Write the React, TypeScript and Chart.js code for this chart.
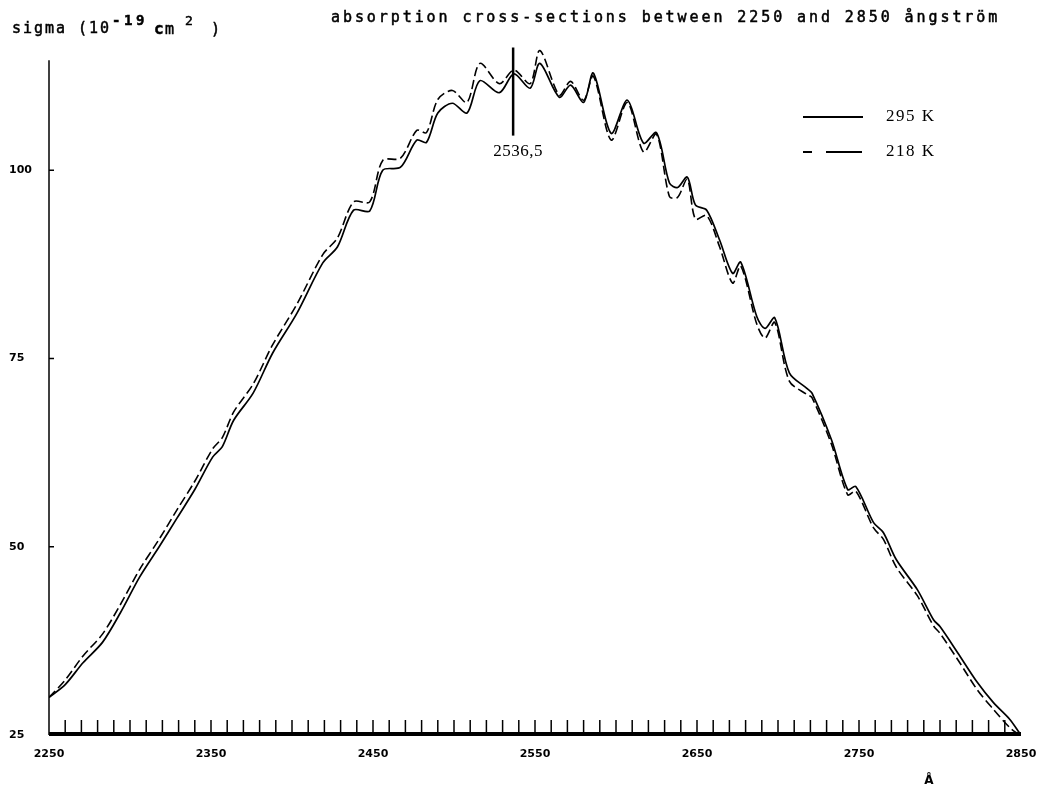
import React, { useEffect, useRef } from "react";
import { Chart, registerables } from "chart.js";
Chart.register(...registerables);

const wavelengths = [2250, 2260, 2271, 2283, 2294, 2306, 2318, 2329, 2340, 2351, 2357, 2364, 2376, 2388, 2403, 2419, 2428, 2438, 2448, 2456, 2467, 2477, 2483, 2490, 2499, 2508, 2516, 2528, 2537, 2547, 2553, 2565, 2572, 2580, 2586, 2597, 2607, 2617, 2625, 2633, 2638, 2644, 2649, 2656, 2664, 2672, 2677, 2687, 2692, 2698, 2707, 2718, 2721, 2733, 2743, 2748, 2759, 2765, 2773, 2786, 2796, 2800, 2811, 2823, 2833, 2843, 2849];

const sigma295 = [30.0, 31.7, 34.6, 37.3, 41.2, 46.0, 50.0, 53.8, 57.6, 61.9, 63.3, 66.8, 70.4, 75.7, 81.0, 87.7, 89.8, 94.7, 94.6, 100.0, 100.4, 104.0, 103.7, 107.6, 108.9, 107.6, 111.9, 110.3, 112.8, 110.9, 114.2, 109.7, 111.3, 109.0, 112.9, 104.9, 109.3, 103.6, 105.0, 98.3, 97.7, 99.1, 95.4, 94.7, 90.7, 86.3, 87.8, 80.5, 79.0, 80.4, 73.1, 71.0, 70.4, 64.2, 57.6, 58.0, 53.2, 51.9, 48.3, 44.3, 40.3, 39.4, 35.9, 32.0, 29.3, 27.1, 25.3];

const sigma218 = [30.0, 32.3, 35.5, 38.4, 42.3, 47.0, 51.0, 54.9, 58.7, 63.0, 64.5, 67.9, 71.6, 76.8, 82.2, 88.8, 91.0, 95.8, 95.8, 101.3, 101.6, 105.3, 105.0, 109.4, 110.6, 109.0, 114.2, 111.5, 113.3, 111.5, 115.9, 110.0, 111.8, 109.3, 112.5, 104.0, 109.0, 102.4, 104.8, 96.5, 96.4, 98.8, 93.5, 94.0, 89.8, 85.0, 87.3, 79.5, 77.7, 79.8, 72.0, 70.2, 69.8, 63.6, 56.9, 57.4, 52.5, 51.0, 47.3, 43.5, 39.5, 38.5, 35.0, 31.0, 28.4, 26.0, 25.0];

const xTickLabels = [2250, 2350, 2450, 2550, 2650, 2750, 2850];
const yTickLabels = [25, 50, 75, 100];
const minorTicks = [2260, 2270, 2280, 2290, 2300, 2310, 2320, 2330, 2340, 2350, 2360, 2370, 2380, 2390, 2400, 2410, 2420, 2430, 2440, 2450, 2460, 2470, 2480, 2490, 2500, 2510, 2520, 2530, 2540, 2550, 2560, 2570, 2580, 2590, 2600, 2610, 2620, 2630, 2640, 2650, 2660, 2670, 2680, 2690, 2700, 2710, 2720, 2730, 2740, 2750, 2760, 2770, 2780, 2790, 2800, 2810, 2820, 2830, 2840];
const seriesLabels = ["295 K", "218 K"];
const markerWavelength = 2536.5;
const markerLabel = "2536,5";
const chartTitle = "absorption cross-sections between 2250 and 2850 ångström";

function spaced(ctx: CanvasRenderingContext2D, text: string, x: number, y: number, adv: number) {
  for (let i = 0; i < text.length; i++) {
    ctx.fillText(text[i], x + i * adv, y);
    ctx.strokeText(text[i], x + i * adv, y);
  }
}

function bolder(ctx: CanvasRenderingContext2D, t: string, x: number, y: number) {
  ctx.fillText(t, x, y);
  ctx.strokeText(t, x, y);
}

const decor = {
  id: "decor",
  afterDatasetsDraw(chart: any) {
    const { ctx, scales } = chart;
    const xs = scales.x;
    const ys = scales.y;
    const left = xs.getPixelForValue(2250);
    const right = xs.getPixelForValue(2850);
    const bottom = ys.getPixelForValue(25);
    ctx.save();
    ctx.strokeStyle = "#000";
    ctx.fillStyle = "#000";
    // y axis
    ctx.lineWidth = 1.5;
    ctx.beginPath();
    ctx.moveTo(left, ys.getPixelForValue(114.6));
    ctx.lineTo(left, bottom);
    ctx.stroke();
    yTickLabels.forEach((v) => {
      const py = ys.getPixelForValue(v);
      ctx.beginPath();
      ctx.moveTo(left, py);
      ctx.lineTo(left + 5, py);
      ctx.stroke();
    });
    // x axis
    ctx.lineWidth = 4;
    ctx.beginPath();
    ctx.moveTo(left, bottom - 1);
    ctx.lineTo(right, bottom - 1);
    ctx.stroke();
    ctx.lineWidth = 1.5;
    minorTicks.forEach((w) => {
      const px = xs.getPixelForValue(w);
      ctx.beginPath();
      ctx.moveTo(px, bottom - 15);
      ctx.lineTo(px, bottom);
      ctx.stroke();
    });
    // marker
    const mx = xs.getPixelForValue(markerWavelength);
    ctx.lineWidth = 2.5;
    ctx.beginPath();
    ctx.moveTo(mx, ys.getPixelForValue(116.3));
    ctx.lineTo(mx, ys.getPixelForValue(104.6));
    ctx.stroke();
    ctx.font = "17px 'Liberation Serif'";
    (ctx as any).letterSpacing = "0.5px";
    ctx.textAlign = "center";
    ctx.textBaseline = "middle";
    ctx.fillText(markerLabel, mx + 5, 152);
    // legend
    ctx.lineWidth = 2;
    ctx.beginPath();
    ctx.moveTo(803, 117);
    ctx.lineTo(863, 117);
    ctx.stroke();
    ctx.beginPath();
    ctx.moveTo(803, 152);
    ctx.lineTo(812, 152);
    ctx.moveTo(826, 152);
    ctx.lineTo(862, 152);
    ctx.stroke();
    ctx.textAlign = "left";
    ctx.font = "17px 'Liberation Serif'";
    (ctx as any).letterSpacing = "1.5px";
    ctx.fillText(seriesLabels[0], 886, 117);
    ctx.fillText(seriesLabels[1], 886, 152);
    (ctx as any).letterSpacing = "0px";
    // titles
    ctx.textBaseline = "alphabetic";
    ctx.lineWidth = 0.5;
    ctx.font = "15px 'DejaVu Sans Mono'";
    spaced(ctx, chartTitle, 331, 22, 11.95);
    spaced(ctx, "sigma", 12, 33, 11);
    spaced(ctx, "(10", 78, 33, 11);
    ctx.font = "bold 14px 'DejaVu Sans Mono'";
    spaced(ctx, "-19", 112, 25, 12);
    ctx.font = "bold 16px 'DejaVu Sans Mono'";
    bolder(ctx, "c", 154, 34);
    ctx.font = "15px 'DejaVu Sans Mono'";
    bolder(ctx, "m", 165, 34);
    ctx.font = "13px 'DejaVu Sans Mono'";
    bolder(ctx, "2", 185, 25);
    ctx.font = "15px 'DejaVu Sans Mono'";
    bolder(ctx, ")", 211, 34);
    // Angstrom unit
    ctx.font = "bold 12px 'DejaVu Sans'";
    ctx.textAlign = "center";
    ctx.fillText("Å", 929, 784);
    ctx.restore();
  },
};

export default function App() {
  const ref = useRef<HTMLCanvasElement | null>(null);
  useEffect(() => {
    if (!ref.current) return;
    const chart = new Chart(ref.current, {
      type: "line",
      data: {
        datasets: [
          {
            label: seriesLabels[0],
            data: wavelengths.map((w, i) => ({ x: w, y: sigma295[i] })),
            borderColor: "#000",
            borderWidth: 1.7,
            pointRadius: 0,
            tension: 0.3,
            fill: false,
          },
          {
            label: seriesLabels[1],
            data: wavelengths.map((w, i) => ({ x: w, y: sigma218[i] })),
            borderColor: "#000",
            borderWidth: 1.6,
            borderDash: [9, 4],
            pointRadius: 0,
            tension: 0.3,
            fill: false,
          },
        ],
      },
      options: {
        animation: false,
        responsive: false,
        layout: { padding: { left: 9, top: 46, right: 20, bottom: 0 } },
        plugins: { legend: { display: false }, tooltip: { enabled: false }, title: { display: false } },
        scales: {
          x: {
            type: "linear",
            min: 2250,
            max: 2850,
            grid: { display: false, drawTicks: false },
            border: { display: false },
            afterBuildTicks: (s: any) => {
              s.ticks = xTickLabels.map((v) => ({ value: v }));
            },
            afterFit: (s: any) => {
              s.height = 60;
              s.paddingLeft = 0;
              s.paddingRight = 0;
            },
            ticks: {
              color: "#000",
              padding: 13,
              maxRotation: 0,
              autoSkip: false,
              font: { family: "'DejaVu Sans'", weight: "bold", size: 11 },
              callback: (v: any) => String(v),
            },
          },
          y: {
            type: "linear",
            min: 25,
            max: 116.5,
            grid: { display: false, drawTicks: false },
            border: { display: false },
            afterBuildTicks: (s: any) => {
              s.ticks = yTickLabels.map((v) => ({ value: v }));
            },
            afterFit: (s: any) => {
              s.width = 40;
            },
            ticks: {
              color: "#000",
              crossAlign: "far",
              autoSkip: false,
              font: { family: "'DejaVu Sans'", weight: "bold", size: 11 },
              callback: (v: any) => String(v),
            },
          },
        },
      },
      plugins: [decor],
    });
    return () => chart.destroy();
  }, []);
  return (
    <div style={{ position: "fixed", left: 0, top: 0, width: 1041, height: 795, background: "#fff" }}>
      <canvas ref={ref} width={1041} height={795} />
    </div>
  );
}
